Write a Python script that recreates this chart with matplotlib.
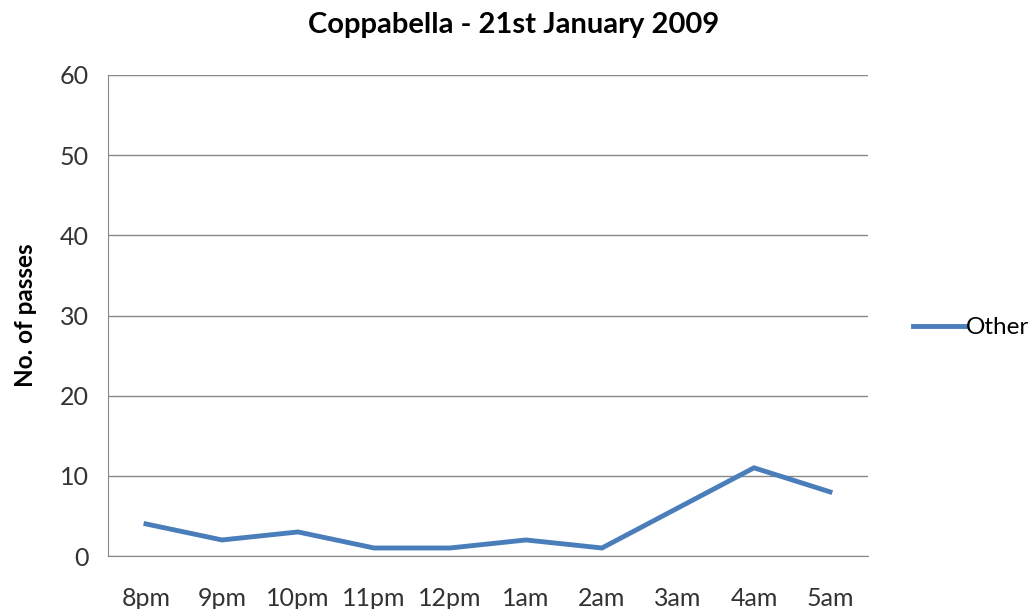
import matplotlib.pyplot as plt

# datos
horas = ['8pm', '9pm', '10pm', '11pm', '12pm', '1am', '2am', '3am', '4am', '5am']
otros = [4, 2, 3, 1, 1, 2, 1, 6, 11, 8]

plt.rcParams['font.family'] = ['Lato', 'DejaVu Sans']

fig = plt.figure(figsize=(10.34, 6.09), dpi=100)
ax = fig.add_axes([108 / 1034, 53 / 609, 760 / 1034, 481 / 609])

x = list(range(len(horas)))
ax.plot(x, otros, color='#4a7ebb', linewidth=3.5, label='Other',
        solid_joinstyle='miter')

ax.set_xlim(-0.5, len(horas) - 0.5)
ax.set_ylim(0, 60)
ax.set_yticks(range(0, 61, 10))
ax.set_xticks(x)
ax.set_xticklabels(horas)
ax.tick_params(length=0, labelsize=18, colors='#333333')
ax.tick_params(axis='x', pad=22)
ax.tick_params(axis='y', pad=14)

ax.grid(axis='y', color='#888888', linewidth=1)
ax.set_axisbelow(True)
for lado in ['top', 'right']:
    ax.spines[lado].set_visible(False)
for lado in ['left', 'bottom']:
    ax.spines[lado].set_color('#888888')

ax.set_ylabel('No. of passes', fontsize=17.5, fontweight='bold', labelpad=16)
fig.text(514 / 1034, 1 - 25 / 609, 'Coppabella - 21st January 2009',
         ha='center', va='center', fontsize=21, fontweight='bold')

ax.legend(loc='center left', bbox_to_anchor=(1.03, 0.475), frameon=False,
          fontsize=17.5, handlelength=2.2, handletextpad=0.0)

fig.savefig('out.png', dpi=100)
